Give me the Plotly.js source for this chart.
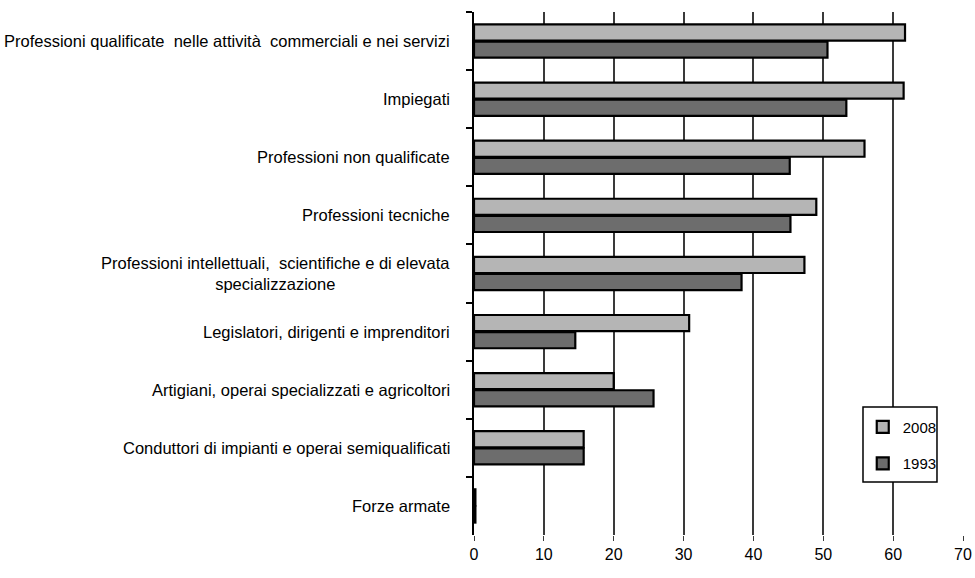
<!DOCTYPE html>
<html>
<head>
<meta charset="utf-8">
<script src="https://cdn.plot.ly/plotly-3.0.1.min.js"></script>
<style>html,body{margin:0;padding:0;background:#fff;}#chart{width:975px;height:578px;}</style>
</head>
<body>
<div id="chart"></div>
<script>
var categories = [
  "Professioni qualificate  nelle attività  commerciali e nei servizi",
  "Impiegati",
  "Professioni non qualificate",
  "Professioni tecniche",
  "Professioni intellettuali,  scientifiche e di elevata<br>specializzazione",
  "Legislatori, dirigenti e imprenditori",
  "Artigiani, operai specializzati e agricoltori",
  "Conduttori di impianti e operai semiqualificati",
  "Forze armate"
];
var values2008 = [61.7, 61.5, 55.9, 49.0, 47.3, 30.8, 20.0, 15.7, 0.2];
var values1993 = [50.6, 53.3, 45.2, 45.3, 38.3, 14.5, 25.7, 15.7, 0.2];
var seriesNames = ["2008", "1993"];
var xTicks = [0, 10, 20, 30, 40, 50, 60, 70];

var FONT = "Liberation Sans, Arial, sans-serif";

var traces = [
  {type: "bar", orientation: "h", name: seriesNames[0], y: categories, x: values2008,
   legendgroup: "a",
   marker: {color: "#b5b5b5", line: {color: "#000", width: 2.2}}},
  {type: "bar", orientation: "h", name: seriesNames[1], y: categories, x: values1993,
   legendgroup: "b",
   marker: {color: "#6d6d6d", line: {color: "#000", width: 2.2}}}
];

var annotations = categories.map(function (c) {
  return {xref: "paper", yref: "y", x: -0.045, y: c, text: c, showarrow: false,
          xanchor: "right", yanchor: "middle", align: "center",
          font: {family: FONT, size: 16.5, color: "#000"}};
});

var layout = {
  width: 975, height: 578,
  margin: {l: 474, r: 12, t: 12, b: 43, pad: 0},
  paper_bgcolor: "#fff", plot_bgcolor: "#fff",
  barmode: "group", bargap: 0.41, bargroupgap: 0.06,
  font: {family: FONT, size: 16, color: "#000"},
  xaxis: {range: [0, 70], tickvals: xTicks, ticktext: xTicks.map(String),
          showgrid: true, gridcolor: "#3a3a3a", gridwidth: 2,
          zeroline: false, showline: false,
          ticks: "outside", ticklen: 5, tickcolor: "#3a3a3a", tickwidth: 1,
          tickfont: {family: FONT, size: 16, color: "#000"}, fixedrange: true},
  yaxis: {autorange: "reversed", showticklabels: false, showgrid: false,
          showline: true, linecolor: "#000", linewidth: 2.5,
          ticks: "outside", tickson: "boundaries", ticklen: 6, tickwidth: 2, tickcolor: "#000",
          zeroline: false, fixedrange: true},
  shapes: [{type: "rect", xref: "paper", yref: "paper", layer: "above",
            x0: 0.7955, x1: 0.9468, y0: 0.1013, y1: 0.2447,
            fillcolor: "#fff", line: {color: "#000", width: 1.5}}],
  legend: {x: 0.795, y: 0.238, xanchor: "left", yanchor: "top",
           bgcolor: "rgba(0,0,0,0)", borderwidth: 0,
           tracegroupgap: 14, traceorder: "grouped",
           font: {family: FONT, size: 15, color: "#000"}},
  annotations: annotations,
  showlegend: true
};

Plotly.newPlot("chart", traces, layout, {displayModeBar: false, staticPlot: true});
</script>
</body>
</html>
